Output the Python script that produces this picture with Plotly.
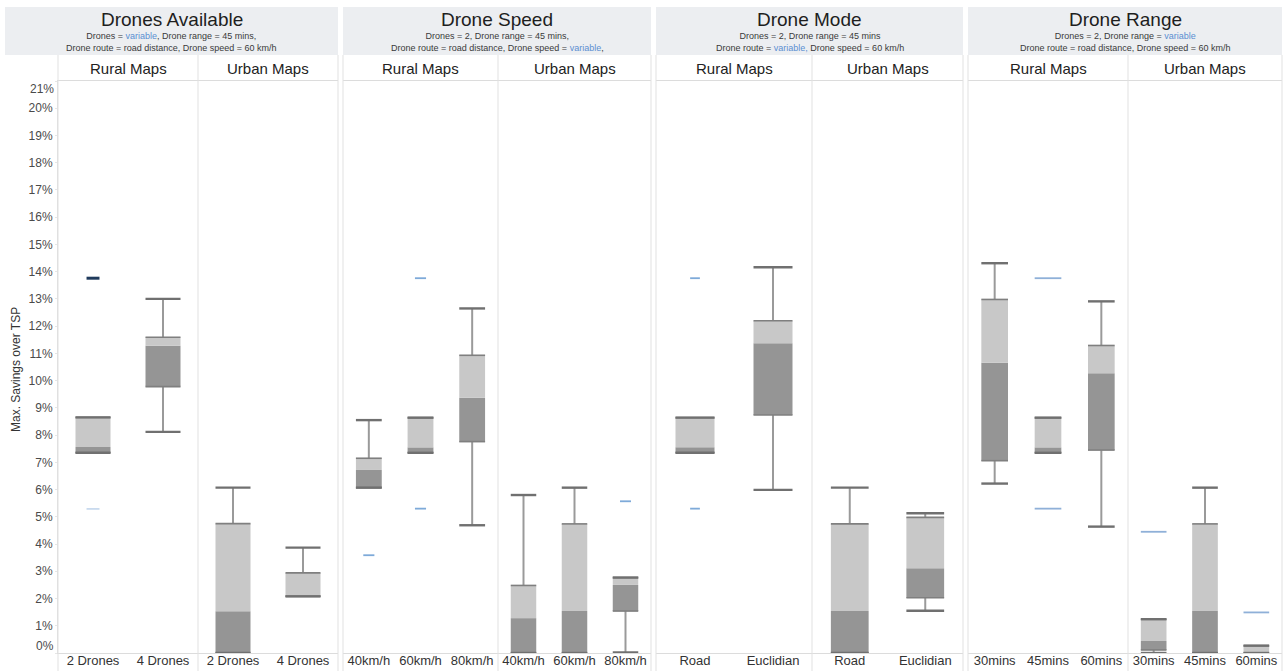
import plotly.graph_objects as go

# ---------------- DATA (values in % savings over TSP) ----------------
categories_drones = ["2 Drones", "4 Drones"]
categories_speed = ["40km/h", "60km/h", "80km/h"]
categories_mode = ["Road", "Euclidian"]
categories_range = ["30mins", "45mins", "60mins"]

map_types = ["Rural Maps", "Urban Maps"]

panel_titles = ["Drones Available", "Drone Speed", "Drone Mode", "Drone Range"]

# Drones Available
rural_drones_wlo = [7.35, 8.12]
rural_drones_q1 = [7.35, 9.78]
rural_drones_med = [7.56, 11.28]
rural_drones_q3 = [8.65, 11.59]
rural_drones_whi = [8.65, 13.00]
rural_drones_out = [[13.76, 5.29], []]

urban_drones_wlo = [0.0, 2.08]
urban_drones_q1 = [0.0, 2.08]
urban_drones_med = [1.53, 2.12]
urban_drones_q3 = [4.75, 2.94]
urban_drones_whi = [6.07, 3.87]
urban_drones_out = [[], []]

# Drone Speed
rural_speed_wlo = [6.07, 7.35, 4.69]
rural_speed_q1 = [6.07, 7.35, 7.76]
rural_speed_med = [6.72, 7.55, 9.37]
rural_speed_q3 = [7.15, 8.64, 10.93]
rural_speed_whi = [8.55, 8.64, 12.65]
rural_speed_out = [[3.59], [13.76, 5.30], []]

urban_speed_wlo = [0.0, 0.0, 0.02]
urban_speed_q1 = [0.0, 0.0, 1.54]
urban_speed_med = [1.28, 1.54, 2.50]
urban_speed_q3 = [2.48, 4.74, 2.77]
urban_speed_whi = [5.80, 6.07, 2.77]
urban_speed_out = [[], [], [5.57]]

# Drone Mode
rural_mode_wlo = [7.35, 5.99]
rural_mode_q1 = [7.35, 8.74]
rural_mode_med = [7.55, 11.37]
rural_mode_q3 = [8.64, 12.20]
rural_mode_whi = [8.64, 14.16]
rural_mode_out = [[13.76, 5.30], []]

urban_mode_wlo = [0.0, 1.55]
urban_mode_q1 = [0.0, 2.03]
urban_mode_med = [1.54, 3.11]
urban_mode_q3 = [4.74, 4.98]
urban_mode_whi = [6.07, 5.13]
urban_mode_out = [[], []]

# Drone Range
rural_range_wlo = [6.22, 7.35, 4.64]
rural_range_q1 = [7.06, 7.35, 7.45]
rural_range_med = [10.66, 7.55, 10.27]
rural_range_q3 = [12.98, 8.64, 11.29]
rural_range_whi = [14.31, 8.64, 12.91]
rural_range_out = [[], [13.76, 5.30], []]

urban_range_wlo = [0.0, 0.0, 0.0]
urban_range_q1 = [0.11, 0.0, 0.0]
urban_range_med = [0.44, 1.54, 0.0]
urban_range_q3 = [1.24, 4.74, 0.27]
urban_range_whi = [1.24, 6.07, 0.27]
urban_range_out = [[4.45], [], [1.49]]

y_ticks = list(range(0, 22))
y_tick_labels = [f"{v}%" for v in y_ticks]
Y_MIN, Y_MAX = y_ticks[0], y_ticks[-1]

# ---------------- STYLE / LAYOUT ----------------
W, H = 1285, 671
FONT = "Liberation Sans, Arial, sans-serif"
BLUE = "#5b8fd1"
TICK_FONT = dict(family=FONT, size=12, color="#4a4a4a")


def px(x):
    return x / W


def py(y):
    return 1 - y / H


subtitles = [
    f"Drones = <span style='color:{BLUE}'>variable</span>, Drone range = 45 mins,<br>"
    "Drone route = road distance, Drone speed = 60 km/h",
    "Drones = 2, Drone range = 45 mins,<br>"
    f"Drone route = road distance, Drone speed = <span style='color:{BLUE}'>variable</span>,",
    "Drones = 2, Drone range = 45 mins<br>"
    f"Drone route = <span style='color:{BLUE}'>variable,</span> Drone speed = 60 km/h",
    f"Drones = 2, Drone range = <span style='color:{BLUE}'>variable</span><br>"
    "Drone route = road distance, Drone speed = 60 km/h",
]

header_px = [(5, 338), (343, 651), (656, 963), (968, 1282)]
sub_px = [(58, 198), (198, 338), (343, 498), (498, 651),
          (656, 812), (812, 963), (968, 1128), (1128, 1282)]
outlier_frac = [0.37, 0.43, 0.25, 1.0]
outlier_color = ["#8fb3dd", "#7eaad9", "#7eaad9", "#8fb0d8"]

PANE_TOP, PANE_BOT = 81, 653
BOX_W = 0.5

subplots = [
    (categories_drones, rural_drones_wlo, rural_drones_q1, rural_drones_med, rural_drones_q3, rural_drones_whi, rural_drones_out),
    (categories_drones, urban_drones_wlo, urban_drones_q1, urban_drones_med, urban_drones_q3, urban_drones_whi, urban_drones_out),
    (categories_speed, rural_speed_wlo, rural_speed_q1, rural_speed_med, rural_speed_q3, rural_speed_whi, rural_speed_out),
    (categories_speed, urban_speed_wlo, urban_speed_q1, urban_speed_med, urban_speed_q3, urban_speed_whi, urban_speed_out),
    (categories_mode, rural_mode_wlo, rural_mode_q1, rural_mode_med, rural_mode_q3, rural_mode_whi, rural_mode_out),
    (categories_mode, urban_mode_wlo, urban_mode_q1, urban_mode_med, urban_mode_q3, urban_mode_whi, urban_mode_out),
    (categories_range, rural_range_wlo, rural_range_q1, rural_range_med, rural_range_q3, rural_range_whi, rural_range_out),
    (categories_range, urban_range_wlo, urban_range_q1, urban_range_med, urban_range_q3, urban_range_whi, urban_range_out),
]

fig = go.Figure()
layout_axes = {}

for k, (cats, wlo, q1, med, q3, whi, outs) in enumerate(subplots):
    idx = k + 1
    xname = "x" if idx == 1 else f"x{idx}"
    axname = "xaxis" if idx == 1 else f"xaxis{idx}"
    panel = k // 2
    pos = list(range(len(cats)))
    h = BOX_W / 2

    # lower box (Q1 -> median), dark grey
    fig.add_trace(go.Bar(
        x=pos, y=[m - a for m, a in zip(med, q1)], base=q1, width=BOX_W,
        marker=dict(color="#959595", line=dict(width=0)),
        xaxis=xname, yaxis="y", showlegend=False, hoverinfo="skip"))
    # upper box (median -> Q3), light grey
    fig.add_trace(go.Bar(
        x=pos, y=[b - m for b, m in zip(q3, med)], base=med, width=BOX_W,
        marker=dict(color="#c8c8c8", line=dict(width=0)),
        xaxis=xname, yaxis="y", showlegend=False, hoverinfo="skip"))

    # whiskers
    wx, wy = [], []
    for i in pos:
        if whi[i] > q3[i]:
            wx += [i, i, None]
            wy += [q3[i], whi[i], None]
        if wlo[i] < q1[i]:
            wx += [i, i, None]
            wy += [q1[i], wlo[i], None]
    fig.add_trace(go.Scatter(x=wx, y=wy, mode="lines",
                             line=dict(color="#9a9a9a", width=2),
                             xaxis=xname, yaxis="y", showlegend=False, hoverinfo="skip"))

    # box edges at Q1 and Q3
    ex, ey = [], []
    for i in pos:
        for v in (q1[i], q3[i]):
            ex += [i - h, i + h, None]
            ey += [v, v, None]
    fig.add_trace(go.Scatter(x=ex, y=ey, mode="lines",
                             line=dict(color="#7f7f7f", width=1.6),
                             xaxis=xname, yaxis="y", showlegend=False, hoverinfo="skip"))

    # whisker caps
    cx, cy = [], []
    for i in pos:
        for v in (wlo[i], whi[i]):
            cx += [i - h, i + h, None]
            cy += [v, v, None]
    fig.add_trace(go.Scatter(x=cx, y=cy, mode="lines",
                             line=dict(color="#707070", width=2.4),
                             xaxis=xname, yaxis="y", showlegend=False, hoverinfo="skip"))

    # outliers
    oh = h * outlier_frac[panel]
    ox, oy = [], []
    special = []
    for i in pos:
        for v in outs[i]:
            if panel == 0 and v > 13:
                special.append((i, v))
                continue
            ox += [i - oh, i + oh, None]
            oy += [v, v, None]
    ocol = "#c9daee" if panel == 0 else outlier_color[panel]
    fig.add_trace(go.Scatter(x=ox, y=oy, mode="lines",
                             line=dict(color=ocol, width=1.8),
                             xaxis=xname, yaxis="y", showlegend=False, hoverinfo="skip"))
    if special:
        sx, sy = [], []
        for i, v in special:
            sx += [i - oh, i + oh, None]
            sy += [v, v, None]
        fig.add_trace(go.Scatter(x=sx, y=sy, mode="lines",
                                 line=dict(color="#1f3a5c", width=3),
                                 xaxis=xname, yaxis="y", showlegend=False, hoverinfo="skip"))

    x0, x1 = sub_px[k]
    layout_axes[axname] = dict(
        domain=[px(x0), px(x1)], anchor="y", range=[-0.5, len(cats) - 0.5],
        tickvals=pos, ticktext=cats, showgrid=False, zeroline=False,
        showline=True, mirror=True, linecolor="#dcdcdc", linewidth=1,
        ticks="", ticklabelstandoff=-5,
        tickfont=dict(family=FONT, size=13, color="#333333"),
        automargin=False, fixedrange=True)

fig.update_layout(**layout_axes)

# end labels (0% and 21%) are drawn as annotations nudged inward, like the original
inner_tick_text = [t if v not in (Y_MIN, Y_MAX) else "" for v, t in zip(y_ticks, y_tick_labels)]

fig.update_layout(
    yaxis=dict(domain=[py(PANE_BOT), py(PANE_TOP)], range=[Y_MIN, Y_MAX], anchor="x",
               tickvals=y_ticks, ticktext=inner_tick_text, showgrid=False,
               zeroline=False, showline=True, linecolor="#e0e0e0",
               ticks="outside", ticklen=2, tickcolor="#e6e6e6",
               tickfont=TICK_FONT, automargin=False, fixedrange=True),
    barmode="overlay",
    width=W, height=H,
    margin=dict(l=0, r=0, t=0, b=0, pad=0, autoexpand=False),
    paper_bgcolor="white", plot_bgcolor="white",
    font=dict(family=FONT),
)

shapes = []
annotations = []
# header boxes and texts
for p, (x0, x1) in enumerate(header_px):
    shapes.append(dict(type="rect", xref="paper", yref="paper",
                       x0=px(x0), x1=px(x1), y0=py(55), y1=py(7),
                       fillcolor="#eceef1", line=dict(width=0), layer="below"))
    cx = px((x0 + x1) / 2)
    annotations.append(dict(text=panel_titles[p], x=cx, y=py(19), xref="paper", yref="paper",
                            showarrow=False, xanchor="center", yanchor="middle",
                            font=dict(family=FONT, size=19, color="#1e1e1e")))
    annotations.append(dict(text=subtitles[p], x=cx, y=py(42), xref="paper", yref="paper",
                            showarrow=False, xanchor="center", yanchor="middle",
                            font=dict(family=FONT, size=9, color="#3a3a3a")))

# sub headers
for k, (x0, x1) in enumerate(sub_px):
    annotations.append(dict(text=map_types[k % 2], x=px((x0 + x1) / 2), y=py(68),
                            xref="paper", yref="paper", showarrow=False,
                            xanchor="center", yanchor="middle",
                            font=dict(family=FONT, size=15, color="#222222")))

# nudged end tick labels
for v, t in zip(y_ticks, y_tick_labels):
    if v == Y_MIN:
        annotations.append(dict(text=t, x=px(56), y=v, xref="paper", yref="y",
                                showarrow=False, xanchor="right", yanchor="middle",
                                yshift=7, font=TICK_FONT))
    elif v == Y_MAX:
        annotations.append(dict(text=t, x=px(56), y=v, xref="paper", yref="y",
                                showarrow=False, xanchor="right", yanchor="middle",
                                yshift=-8, font=TICK_FONT))

# vertical separators
for xv in [58, 198, 338, 343, 498, 651, 656, 812, 963, 968, 1128, 1282]:
    shapes.append(dict(type="line", xref="paper", yref="paper",
                       x0=px(xv), x1=px(xv), y0=py(671), y1=py(55),
                       line=dict(color="#e1e1e1", width=1)))

# y axis title
annotations.append(dict(text="Max. Savings over TSP", x=px(16), y=py(370),
                        xref="paper", yref="paper", showarrow=False, textangle=-90,
                        xanchor="center", yanchor="middle",
                        font=dict(family=FONT, size=12, color="#333333")))

fig.update_layout(shapes=shapes, annotations=annotations)

post_js = (
    "document.documentElement.style.margin='0px';"
    "document.documentElement.style.padding='0px';"
    "document.documentElement.style.overflow='hidden';"
    "document.body.style.margin='0px';"
    "document.body.style.padding='0px';"
    "document.body.style.overflow='hidden';"
    "var gd=document.getElementById('{plot_id}');"
    "gd.style.position='fixed';gd.style.left='0px';gd.style.top='0px';"
)

fig.write_html("out.html", config={"displayModeBar": False}, post_script=post_js)
